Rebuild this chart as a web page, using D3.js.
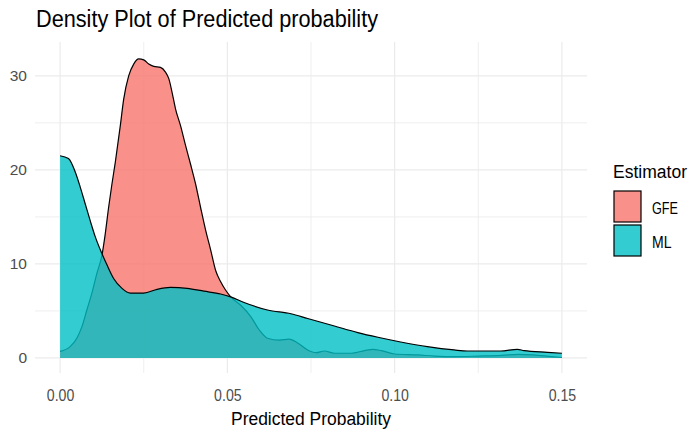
<!DOCTYPE html>
<html>
<head>
<meta charset="utf-8">
<script src="https://cdn.jsdelivr.net/npm/d3@7"></script>
<style>
    body { margin: 0; background: #fff; }
    text { font-family: "Liberation Sans", Arial, sans-serif; }
</style>
</head>
<body>
<div id="chart"></div>
<script>
// Data
var estimators = ["GFE", "ML"];

var gfeX = [0.0000, 0.0030, 0.0050, 0.0065, 0.0080, 0.0095, 0.0110, 0.0125, 0.0135, 0.0145,
    0.0155, 0.0165, 0.0180, 0.0190, 0.0205, 0.0220, 0.0235, 0.0250, 0.0265, 0.0280,
    0.0300, 0.0315, 0.0325, 0.0335, 0.0345, 0.0360, 0.0375, 0.0390, 0.0405, 0.0420,
    0.0435, 0.0450, 0.0465, 0.0480, 0.0495, 0.0510, 0.0540, 0.0570, 0.0595, 0.0620,
    0.0655, 0.0685, 0.0710, 0.0740, 0.0765, 0.0790, 0.0820, 0.0870, 0.0910, 0.0935,
    0.0960, 0.1000, 0.1070, 0.1120, 0.1180, 0.1250, 0.1320, 0.1370, 0.1415, 0.1470, 0.1500];
var gfeY = [0.7, 1.2, 2.1, 3.3, 5.1, 6.9, 9.0, 10.9, 13.2, 16.0,
    18.5, 20.8, 24.7, 27.5, 30.0, 31.25, 31.8, 31.7, 31.25, 31.0,
    30.9, 30.4, 29.7, 28.2, 26.5, 24.7, 22.6, 20.6, 18.5, 16.0,
    13.6, 11.5, 9.3, 8.1, 7.2, 6.5, 5.6, 4.4, 3.0, 2.1,
    1.9, 2.0, 1.6, 0.85, 0.56, 0.74, 0.5, 0.5, 0.78, 0.92,
    0.78, 0.42, 0.32, 0.2, 0.14, 0.2, 0.28, 0.39, 0.32, 0.14, 0.05];

var mlX = [0.0000, 0.0025, 0.0045, 0.0060, 0.0075, 0.0090, 0.0105, 0.0125, 0.0140, 0.0160,
    0.0185, 0.0210, 0.0250, 0.0290, 0.0330, 0.0380, 0.0430, 0.0480, 0.0510, 0.0550,
    0.0620, 0.0690, 0.0740, 0.0820, 0.0890, 0.0950, 0.1018, 0.1098, 0.1178, 0.1218,
    0.1317, 0.1367, 0.1387, 0.1457, 0.1500];
var mlY = [21.5, 21.2, 19.8, 18.2, 16.4, 14.6, 12.9, 11.1, 9.9, 8.45,
    7.4, 6.9, 6.9, 7.3, 7.5, 7.4, 7.1, 6.8, 6.5, 5.9,
    5.1, 4.7, 4.2, 3.4, 2.7, 2.2, 1.7, 1.2, 0.85, 0.74,
    0.74, 0.92, 0.78, 0.6, 0.5];

var xTicks = [0, 0.05, 0.10, 0.15];
var xMinor = [0.025, 0.075, 0.125];
var yTicks = [0, 10, 20, 30];
var yMinor = [5, 15, 25];

var colors = {
    "GFE": "#F8766D",
    "ML": "#00BFC4"
};

var W = 693, H = 429;
var panel = { left: 35, right: 587, top: 42, bottom: 373 };

var svg = d3.select("#chart").append("svg")
    .attr("width", W)
    .attr("height", H);

var x = d3.scaleLinear()
    .domain([-0.0075, 0.1575])
    .range([panel.left, panel.right]);

var y = d3.scaleLinear()
    .domain([-1.6, 33.6])
    .range([panel.bottom, panel.top]);

// the reference text is drawn tall and narrow, so squeeze it to the read widths
function squeeze(sel, len) {
    sel.attr("textLength", len).attr("lengthAdjust", "spacingAndGlyphs");
}

// grid
var grid = svg.append("g").attr("class", "grid");
grid.selectAll(".xminor").data(xMinor).enter().append("line")
    .attr("x1", d => x(d)).attr("x2", d => x(d))
    .attr("y1", panel.top).attr("y2", panel.bottom)
    .attr("stroke", "#EBEBEB").attr("stroke-width", 0.8);
grid.selectAll(".yminor").data(yMinor).enter().append("line")
    .attr("y1", d => y(d)).attr("y2", d => y(d))
    .attr("x1", panel.left).attr("x2", panel.right)
    .attr("stroke", "#EBEBEB").attr("stroke-width", 0.8);
grid.selectAll(".xmajor").data(xTicks).enter().append("line")
    .attr("x1", d => x(d)).attr("x2", d => x(d))
    .attr("y1", panel.top).attr("y2", panel.bottom)
    .attr("stroke", "#EBEBEB").attr("stroke-width", 1.2);
grid.selectAll(".ymajor").data(yTicks).enter().append("line")
    .attr("y1", d => y(d)).attr("y2", d => y(d))
    .attr("x1", panel.left).attr("x2", panel.right)
    .attr("stroke", "#EBEBEB").attr("stroke-width", 1.2);

// densities
var series = [
    { name: "GFE", values: gfeX.map((v, i) => [v, gfeY[i]]) },
    { name: "ML", values: mlX.map((v, i) => [v, mlY[i]]) }
];

var area = d3.area()
    .x(d => x(d[0]))
    .y0(y(0))
    .y1(d => y(d[1]))
    .curve(d3.curveMonotoneX);

var line = d3.line()
    .x(d => x(d[0]))
    .y(d => y(d[1]))
    .curve(d3.curveMonotoneX);

series.forEach(function (s) {
    svg.append("path")
        .attr("d", area(s.values))
        .attr("fill", colors[s.name])
        .attr("fill-opacity", 0.8);
    svg.append("path")
        .attr("d", line(s.values))
        .attr("fill", "none")
        .attr("stroke", "#000")
        .attr("stroke-width", 1.2);
});

// axes (no lines, no ticks)
var gX = svg.append("g")
    .attr("transform", "translate(0," + (panel.bottom + 4) + ")")
    .call(d3.axisBottom(x).tickValues(xTicks).tickFormat(d3.format(".2f")).tickSize(0).tickPadding(0));
gX.select(".domain").remove();
gX.selectAll("text")
    .attr("y", 24)
    .attr("dy", null)
    .attr("fill", "#4D4D4D")
    .style("font-size", "16.5px")
    .call(squeeze, 27.5);

var gY = svg.append("g")
    .attr("transform", "translate(" + 27 + ",0)")
    .call(d3.axisLeft(y).tickValues(yTicks).tickSize(0).tickPadding(0));
gY.select(".domain").remove();
gY.selectAll("text")
    .attr("fill", "#4D4D4D")
    .style("font-size", "15.5px");

// titles
svg.append("text")
    .attr("x", 36)
    .attr("y", 27)
    .style("font-size", "23px")
    .attr("fill", "#000")
    .text("Density Plot of Predicted probability")
    .call(squeeze, 342);

svg.append("text")
    .attr("x", (panel.left + panel.right) / 2)
    .attr("y", 425)
    .attr("text-anchor", "middle")
    .style("font-size", "18px")
    .attr("fill", "#000")
    .text("Predicted Probability")
    .call(squeeze, 160);

// legend
var legend = svg.append("g").attr("transform", "translate(613,0)");
legend.append("text")
    .attr("x", 0)
    .attr("y", 178)
    .style("font-size", "18px")
    .text("Estimator")
    .call(squeeze, 74);

var key = legend.selectAll(".key").data(estimators).enter().append("g")
    .attr("transform", (d, i) => "translate(1," + (191 + i * 34) + ")");
key.append("rect")
    .attr("width", 27)
    .attr("height", 31)
    .attr("fill", d => colors[d])
    .attr("fill-opacity", 0.8)
    .attr("stroke", "#000")
    .attr("stroke-width", 1.2);
key.append("text")
    .attr("x", 38)
    .attr("y", 23)
    .style("font-size", "16px")
    .text(d => d)
    .each(function (d) {
        d3.select(this).call(squeeze, d == "GFE" ? 26 : 19.5);
    });
</script>
</body>
</html>
